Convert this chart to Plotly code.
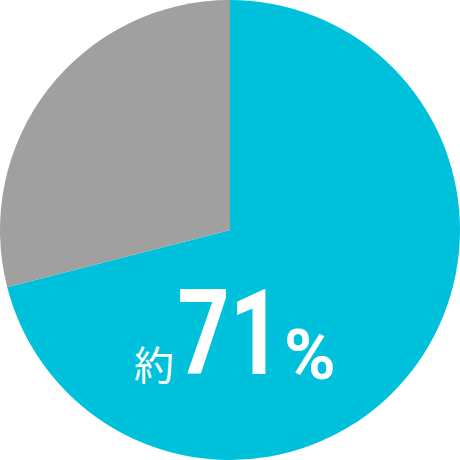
import plotly.graph_objects as go

labels = ['約71%', 'その他']
values = [71, 29]
colors = ['#00C1DB', '#A0A0A0']

# 中央のラベル: 約 / 71 / %
label_parts = ['約', '71', '%']

fig = go.Figure()
fig.add_trace(go.Pie(
    labels=labels, values=values,
    marker=dict(colors=colors, line=dict(width=0)),
    sort=False, direction='clockwise', rotation=0,
    textinfo='none', hoverinfo='none', showlegend=False,
    domain=dict(x=[0, 1], y=[0, 1])
))

fig.add_annotation(
    x=0.335, y=0.143, xref='paper', yref='paper',
    xanchor='center', yanchor='bottom', showarrow=False,
    text=label_parts[0],
    font=dict(color='white', size=40, family='Noto Sans CJK JP')
)
fig.add_annotation(
    x=0.499, y=0.119, xref='paper', yref='paper',
    xanchor='center', yanchor='bottom', showarrow=False,
    text='<b>' + label_parts[1] + '</b>',
    font=dict(color='white', size=118, family='Roboto')
)
fig.add_annotation(
    x=0.673, y=0.135, xref='paper', yref='paper',
    xanchor='center', yanchor='bottom', showarrow=False,
    text='<b>' + label_parts[2] + '</b>',
    font=dict(color='white', size=70, family='Roboto')
)

fig.update_layout(
    width=460, height=460,
    margin=dict(l=0, r=0, t=0, b=0),
    paper_bgcolor='white', plot_bgcolor='white'
)

# 数字を少し細長く(condensed風)
js = """
document.body.style.margin='0';
var t = document.querySelectorAll('.annotation-text')[1];
t.style.transformBox = 'fill-box';
t.style.transformOrigin = 'center';
t.style.transform = 'scaleX(0.77)';
"""
fig.write_html("out.html", config={'displayModeBar': False}, post_script=js)
